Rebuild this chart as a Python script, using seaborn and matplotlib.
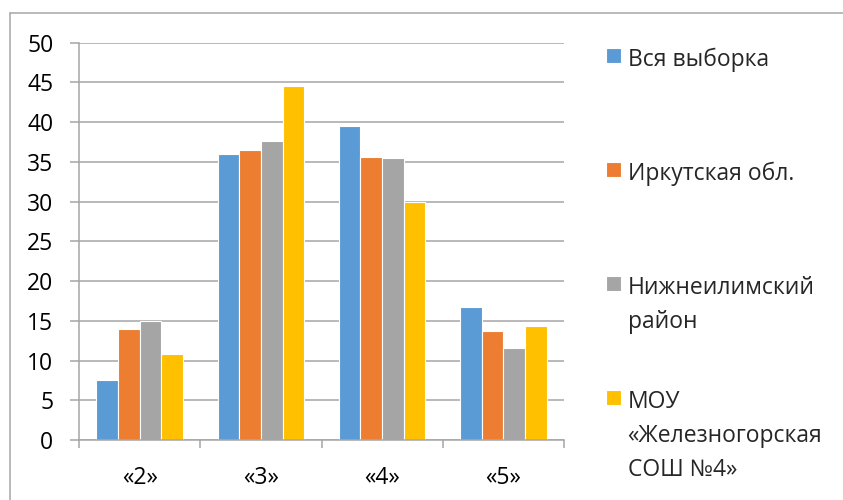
import numpy as np
import pandas as pd
import seaborn as sns
import matplotlib.pyplot as plt
from matplotlib.lines import Line2D

categories = ['«2»', '«3»', '«4»', '«5»']
series = ['Вся выборка', 'Иркутская обл.', 'Нижнеилимский район',
          'МОУ «Железногорская СОШ №4»']
legend_labels = ['Вся выборка\n\n', 'Иркутская обл.\n\n',
                 'Нижнеилимский\nрайон\n', 'МОУ\n«Железногорская\nСОШ №4»']
vsya = [7.6, 36.0, 39.5, 16.7]
irkutsk = [14.0, 36.5, 35.6, 13.7]
nizhneilimsk = [15.0, 37.6, 35.5, 11.6]
mou = [10.8, 44.5, 30.0, 14.4]
colors = ['#5B9BD5', '#ED7D31', '#A5A5A5', '#FFC000']

df = pd.DataFrame({
    'cat': categories * 4,
    'series': np.repeat(series, 4),
    'value': vsya + irkutsk + nizhneilimsk + mou,
})

sns.set_theme(style='white')
plt.rcParams['font.family'] = ['Open Sans', 'DejaVu Sans']
fs = 16.5
grey = '#A6A6A6'

fig = plt.figure(figsize=(8.43, 5.0), dpi=100)
ax = fig.add_axes([79 / 843, 60 / 500, 485 / 843, 397.3 / 500])

sns.barplot(data=df, x='cat', y='value', hue='series', hue_order=series,
            order=categories, palette=colors, width=0.715, saturation=1,
            edgecolor='white', linewidth=0.8, legend=False, ax=ax)

ax.set_xlim(-0.5, 3.5)
ax.set_ylim(0, 50)
ax.set_yticks(np.arange(0, 51, 5))
ax.set_xlabel('')
ax.set_ylabel('')
ax.grid(axis='y', color=grey, linewidth=1.1)
ax.set_axisbelow(True)
for s in ['top', 'right']:
    ax.spines[s].set_visible(False)
for s in ['left', 'bottom']:
    ax.spines[s].set_color(grey)
    ax.spines[s].set_linewidth(1.1)

ax.tick_params(axis='y', length=6.5, width=1.1, color=grey, pad=12,
               labelsize=fs, labelcolor='black', left=True)
ax.set_xticks(np.arange(-0.5, 3.6, 1), minor=True)
ax.tick_params(axis='x', which='minor', length=5.8, width=1.1, color=grey,
               bottom=True)
ax.tick_params(axis='x', which='major', length=0, pad=19, labelsize=fs,
               labelcolor='black')

leg = ax.legend(ax.containers, legend_labels, loc='upper left',
                bbox_to_anchor=(606 / 843, 1 - 48 / 500),
                bbox_transform=fig.transFigure, frameon=False,
                fontsize=fs, handlelength=0.64, handleheight=0.64,
                handletextpad=0.3, borderpad=0, borderaxespad=0,
                labelspacing=0.93)
for t in leg.get_texts():
    t.set_linespacing(1.565)
for col in leg._legend_handle_box.get_children():
    for item in col.get_children():
        item.align = 'top'

# chart border
fig.add_artist(Line2D([10 / 843, 1], [1 - 13 / 500] * 2, color=grey,
                      linewidth=1.1, transform=fig.transFigure))
fig.add_artist(Line2D([10 / 843] * 2, [0, 1 - 13 / 500], color=grey,
                      linewidth=1.1, transform=fig.transFigure))

fig.savefig('out.png', dpi=100)
